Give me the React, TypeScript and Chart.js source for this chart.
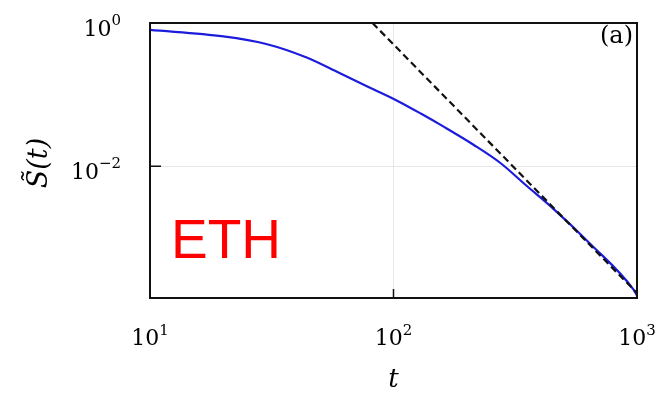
import React, { useEffect, useRef } from "react";
import { Chart, registerables } from "chart.js";

Chart.register(...registerables);

// Data
const tValues = [10, 20, 30, 44, 60, 83, 103, 130, 160, 213, 274, 353, 440, 642, 968, 1000];
const sValues = [0.8, 0.65, 0.51, 0.33, 0.2, 0.118, 0.083, 0.054, 0.036, 0.02, 0.0112, 0.0053, 0.0028, 0.00083, 0.00019, 0.000158];
const fitT = [82, 1000];
const fitS = [1, 0.00017];

const xTickValues = [10, 100, 1000];
const xTickExps = ["1", "2", "3"];
const yTickValues = [1, 0.01];
const yTickExps = ["0", "\u22122"];

const SERIF = '"DejaVu Serif", serif';

const overlay = {
  id: "overlay",
  afterDraw(chart: any) {
    const { ctx, chartArea } = chart;
    const { left, right, top, bottom } = chartArea;
    const xs = chart.scales.x;
    const ys = chart.scales.y;
    ctx.save();
    // box
    ctx.strokeStyle = "#111";
    ctx.lineWidth = 2;
    ctx.strokeRect(left, top, right - left, bottom - top);
    // inner ticks
    ctx.lineWidth = 1.5;
    ctx.beginPath();
    const yt = ys.getPixelForValue(0.01);
    ctx.moveTo(left, yt);
    ctx.lineTo(left + 11, yt);
    const xt = xs.getPixelForValue(100);
    ctx.moveTo(xt, bottom);
    ctx.lineTo(xt, bottom - 9);
    ctx.stroke();

    // tick labels
    ctx.fillStyle = "#000";
    ctx.textBaseline = "alphabetic";
    const baseFont = `22px ${SERIF}`;
    const supFont = `15px ${SERIF}`;
    xTickValues.forEach((v, i) => {
      const px = xs.getPixelForValue(v);
      ctx.font = baseFont;
      const wb = ctx.measureText("10").width;
      ctx.font = supFont;
      const ws = ctx.measureText(xTickExps[i]).width;
      const x0 = px - (wb + ws) / 2;
      ctx.font = baseFont;
      ctx.textAlign = "left";
      ctx.fillText("10", x0, bottom + 47);
      ctx.font = supFont;
      ctx.fillText(xTickExps[i], x0 + wb, bottom + 37);
    });
    yTickValues.forEach((v, i) => {
      const py = ys.getPixelForValue(v);
      ctx.font = supFont;
      const ws = ctx.measureText(yTickExps[i]).width;
      const xr = left - 29;
      ctx.textAlign = "left";
      ctx.fillText(yTickExps[i], xr - ws, py + 2);
      ctx.font = baseFont;
      ctx.textAlign = "right";
      ctx.fillText("10", xr - ws, py + 13);
    });

    // axis titles
    ctx.font = `italic 26px ${SERIF}`;
    ctx.textAlign = "center";
    ctx.fillText("t", (left + right) / 2, 387);
    ctx.save();
    ctx.translate(47, 163);
    ctx.rotate(-Math.PI / 2);
    ctx.font = `italic 27px ${SERIF}`;
    ctx.fillText("S\u0303(t)", 0, 0);
    ctx.restore();

    // annotations
    ctx.font = `24px ${SERIF}`;
    ctx.textAlign = "right";
    ctx.fillText("(a)", right - 4, top + 20);
    ctx.font = '55px "Liberation Sans", Arial, sans-serif';
    ctx.fillStyle = "#ff0000";
    ctx.textAlign = "left";
    ctx.fillText("ETH", 171, 258);
    ctx.restore();
  },
};

export default function App() {
  const ref = useRef<HTMLCanvasElement>(null);
  useEffect(() => {
    const canvas = ref.current!;
    const chart = new Chart(canvas, {
      type: "line",
      data: {
        datasets: [
          {
            data: fitT.map((t, i) => ({ x: t, y: fitS[i] })),
            borderColor: "#111",
            borderWidth: 2.2,
            borderDash: [7, 4],
            pointRadius: 0,
            fill: false,
          },
          {
            data: tValues.map((t, i) => ({ x: t, y: sValues[i] })),
            borderColor: "#1c1cdc",
            borderWidth: 2.2,
            pointRadius: 0,
            cubicInterpolationMode: "monotone",
            fill: false,
          },
        ],
      },
      options: {
        responsive: false,
        animation: false,
        layout: { padding: { left: 150, right: 23, top: 23, bottom: 95 } },
        plugins: { legend: { display: false }, tooltip: { enabled: false } },
        scales: {
          x: {
            type: "logarithmic",
            min: 10,
            max: 1000,
            afterBuildTicks: (s: any) => {
              s.ticks = xTickValues.map((v) => ({ value: v }));
            },
            afterFit: (s: any) => {
              s.height = 0;
            },
            ticks: { display: false },
            grid: { color: "#e6e6e6", lineWidth: 1, drawTicks: false },
            border: { display: false },
          },
          y: {
            type: "logarithmic",
            min: 1.45e-4,
            max: 1,
            afterBuildTicks: (s: any) => {
              s.ticks = yTickValues.map((v) => ({ value: v }));
            },
            afterFit: (s: any) => {
              s.width = 0;
            },
            ticks: { display: false },
            grid: { color: "#e6e6e6", lineWidth: 1, drawTicks: false },
            border: { display: false },
          },
        },
      },
      plugins: [overlay],
    } as any);
    return () => chart.destroy();
  }, []);
  return (
    <div style={{ position: "fixed", left: 0, top: 0, width: 660, height: 393, background: "#fff" }}>
      <canvas ref={ref} width={660} height={393} style={{ display: "block" }} />
    </div>
  );
}
